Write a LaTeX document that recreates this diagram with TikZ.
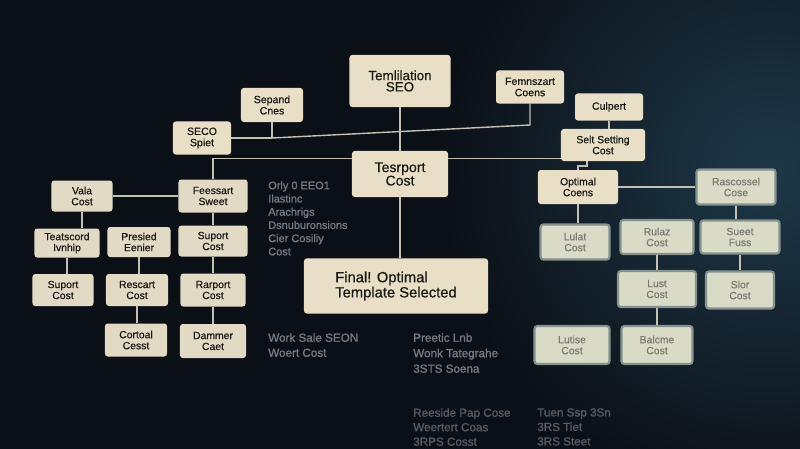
\documentclass[tikz,border=0pt]{standalone}
\usepackage{fontspec}
\setmainfont{Liberation Sans}
\newfontfamily\cardfont[FakeBold=0.6]{Liberation Sans}
\newfontfamily\notefont[FakeBold=1.2]{Liberation Sans}
\usetikzlibrary{positioning,calc}

\definecolor{bgdark}{HTML}{0B1017}
\definecolor{bgglow}{HTML}{1E3848}
\definecolor{boxfill}{HTML}{E8DFC6}
\definecolor{boxleft}{HTML}{E2DAC4}
\definecolor{boxsoft}{HTML}{DADBC6}
\definecolor{linecol}{HTML}{C4C1B4}
\definecolor{ink}{HTML}{1A1916}
\definecolor{softink}{HTML}{7A7C72}
\definecolor{faint}{HTML}{727A83}
\definecolor{fainter}{HTML}{535C66}

\begin{document}
\begin{tikzpicture}[
    x=0.025cm, y=-0.025cm,
    card/.style={rectangle, fill=boxfill, text=ink, align=center, rounded corners=2pt, inner sep=1pt, font=\cardfont\fontsize{7.4}{7.8}\selectfont},
    topcard/.style={card, font=\cardfont\fontsize{7.5}{8}\selectfont},
    leftcard/.style={card, fill=boxleft},
    bigcard/.style={card, font=\cardfont\fontsize{10}{9.5}\selectfont},
    softcard/.style={card, fill=boxsoft, draw=boxsoft!55!bgglow, line width=1.5pt, text=softink},
    wh/.style 2 args={minimum width=#1cm, minimum height=#2cm},
    note/.style={anchor=north west, align=left, text=faint, inner sep=0pt, font=\notefont\fontsize{7.8}{9.4}\selectfont},
    link/.style={draw=linecol, line width=1pt}
]

% Background
\useasboundingbox (0,0) rectangle (800,448);
\fill[bgdark] (-4,-4) rectangle (804,452);
\begin{scope}
\clip (0,0) rectangle (800,448);
\shade[inner color=bgglow, outer color=bgdark] (770,170) circle (330);
\end{scope}

% Top row
\node[bigcard, wh={2.525}{1.3}, font=\cardfont\fontsize{9.5}{8}\selectfont] (top-seo) at (400,81) {Temlilation\\SEO};
\node[topcard, wh={1.55}{0.85}] (top-sep) at (272,105) {Sepand\\Cnes};
\node[topcard, wh={1.45}{0.825}] (top-sec) at (202,138) {SECO\\Spiet};
\node[topcard, wh={1.7}{0.825}] (top-fen) at (530,87) {Femnszart\\Coens};

% Middle
\node[bigcard, wh={2.4}{1.15}] (mid-tport) at (400,174) {Tesrport\\Cost};
\node[bigcard, wh={4.6}{1.375}, align=left, font=\cardfont\fontsize{10.5}{9.5}\selectfont] (mid-final) at (396,286) {Final! Optimal\\Template Selected};

% Left tree
\node[leftcard, wh={1.525}{0.775}] (left-vala) at (82,196) {Vala\\Cost};
\node[leftcard, wh={1.725}{0.825}] (left-fees) at (213,196) {Feessart\\Sweet};
\node[leftcard, wh={1.625}{0.725}] (left-teat) at (67,243) {Teatscord\\Ivnhip};
\node[leftcard, wh={1.575}{0.75}] (left-pres) at (139,242) {Presied\\Eenier};
\node[leftcard, wh={1.725}{0.775}] (left-supc) at (213,241) {Suport\\Cost};
\node[leftcard, wh={1.525}{0.8}] (left-supa) at (63,290) {Suport\\Cost};
\node[leftcard, wh={1.55}{0.8}] (left-resc) at (137,290) {Rescart\\Cost};
\node[leftcard, wh={1.625}{0.825}] (left-rarp) at (213,290) {Rarport\\Cost};
\node[leftcard, wh={1.55}{0.825}] (left-cort) at (136,340) {Cortoal\\Cesst};
\node[leftcard, wh={1.65}{0.85}] (left-damm) at (213,341) {Dammer\\Caet};

% Right tree
\node[topcard, wh={1.7}{0.675}] (right-culp) at (609,107) {Culpert};
\node[card, wh={2.1}{0.8}] (right-selt) at (603,145) {Selt Setting\\Cost};
\node[card, wh={2.0}{0.85}] (right-opt) at (578,187) {Optimal\\Coens};
\node[softcard, wh={1.975}{0.875}] (right-rasc) at (736,187) {Rascossel\\Cose};
\node[softcard, wh={1.725}{0.875}] (right-lula) at (575,242) {Lulat\\Cost};
\node[softcard, wh={1.825}{0.85}] (right-rula) at (657,237) {Rulaz\\Cost};
\node[softcard, wh={1.975}{0.825}] (right-suee) at (740,237) {Sueet\\Fuss};
\node[softcard, wh={1.95}{0.9}] (right-lust) at (657,289) {Lust\\Cost};
\node[softcard, wh={1.7}{0.925}] (right-slor) at (740,290) {Slor\\Cost};
\node[softcard, wh={1.875}{0.95}] (right-luti) at (572,345) {Lutise\\Cost};
\node[softcard, wh={1.775}{0.95}] (right-balc) at (657,345) {Balcme\\Cost};

% Faint notes
\node[note] (note-a) at (268,181) {Orly 0 EEO1\\Ilastinc\\Arachrigs\\Dsnuburonsions\\Cier Cosiliy\\Cost};
\node[note, font=\notefont\fontsize{8.3}{10.7}\selectfont] (note-b) at (268,333) {Work Sale SEON\\Woert Cost};
\node[note, font=\notefont\fontsize{8.3}{11}\selectfont] (note-c) at (413,333) {Preetic Lnb\\Wonk Tategrahe\\3STS Soena};
\node[note, text=fainter, font=\notefont\fontsize{8.3}{10.3}\selectfont] (note-d) at (413,408) {Reeside Pap Cose\\Weertert Coas\\3RPS Cosst};
\node[note, text=fainter, font=\notefont\fontsize{8.3}{10.3}\selectfont] (note-e) at (537,408) {Tuen Ssp 3Sn\\3RS Tiet\\3RS Steet};

% Trunk
\draw[link] (top-seo) -- (mid-tport);
\draw[link] (mid-tport) -- (mid-tport |- mid-final.north);

% Upper branch
\coordinate (j-sep) at (272,138);
\coordinate (j-fen) at (530,125);
\draw[link] (top-sec.east) -- (j-sep);
\draw[link] (top-sep) -- (j-sep);
\draw[link] (j-sep) -- (j-fen) -- (top-fen);

% Middle branches
\draw[link] (mid-tport.162) -| (left-fees);
\draw[link] (mid-tport.18) -- (mid-tport.18 -| right-selt.west);

% Left tree links
\draw[link] (left-vala) -- (left-fees);
\draw[link] (left-vala) -- (left-vala |- left-teat.north);
\draw[link] (left-teat) -- (left-teat |- left-supa.north);
\draw[link] (left-pres) -- (left-pres |- left-resc.north);
\draw[link] (left-resc) -- (left-resc |- left-cort.north);
\draw[link] (left-fees) -- (left-supc);
\draw[link] (left-supc) -- (left-rarp);
\draw[link] (left-rarp) -- (left-damm);

% Right tree links
\coordinate (j-opt) at (587,166);
\draw[link] (right-culp) -- (right-culp |- right-selt.north);
\draw[link] (right-selt.south -| j-opt) -- (j-opt) -| (right-opt);
\draw[link] (right-opt) -- (right-rasc);
\draw[link] (right-opt) -- (right-opt |- right-lula.north);
\draw[link] (right-rasc) -- (right-rasc |- right-suee.north);
\draw[link] (right-rula) -- (right-lust);
\draw[link] (right-lust) -- (right-balc);
\draw[link] (right-suee) -- (right-slor);

\end{tikzpicture}
\end{document}
